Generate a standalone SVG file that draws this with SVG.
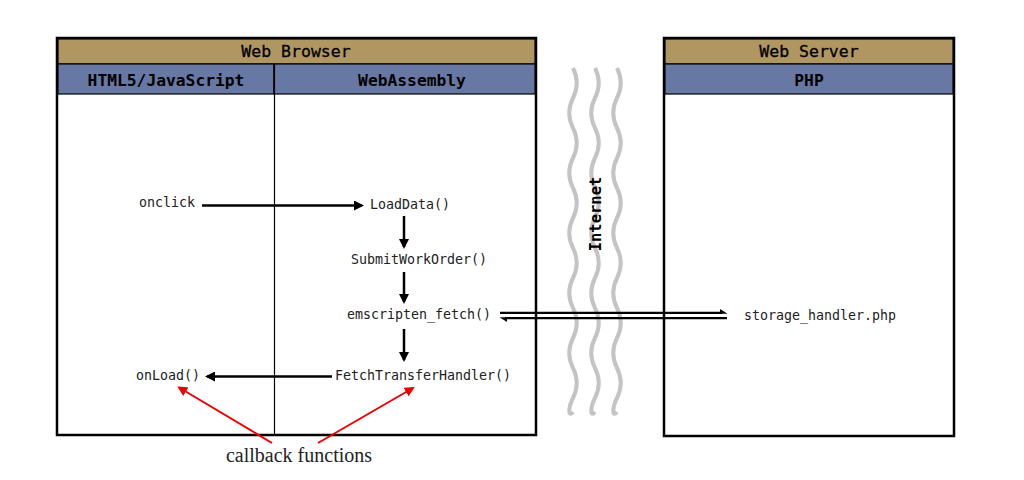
<svg xmlns="http://www.w3.org/2000/svg" width="1024" height="480" viewBox="0 0 1024 480">
<defs>
<style>
.box{fill:#fff;stroke:#000;stroke-width:2.5}
.title{fill:#b09660;stroke:#000;stroke-width:1.2}
.hdr{fill:#6878a4;stroke:#000;stroke-width:1.2}
.ht{font-family:"DejaVu Sans Mono",monospace;font-size:16.3px;font-weight:bold;text-anchor:middle;fill:#000}
.tt{font-family:"DejaVu Sans Mono",monospace;font-size:16.5px;text-anchor:middle;fill:#000;stroke:#000;stroke-width:0.3}
.fn{font-family:"DejaVu Sans Mono",monospace;font-size:13.3px;fill:#222}
.ar{stroke:#000;stroke-width:2.5;fill:none}
.red{stroke:#e00;stroke-width:2;fill:none}
.wave{stroke:#c4c4c4;stroke-width:4;fill:none}
</style>
<marker id="ah" viewBox="0 0 10 10" refX="8" refY="5" markerWidth="4" markerHeight="4" orient="auto-start-reverse" markerUnits="strokeWidth"><path d="M0,0 L10,5 L0,10 z" fill="#000"/></marker>
<marker id="rh" viewBox="0 0 10 10" refX="8" refY="5" markerWidth="5" markerHeight="5" orient="auto" markerUnits="strokeWidth"><path d="M0,0 L10,5 L0,10 z" fill="#e00"/></marker>
<filter id="bl"><feGaussianBlur stdDeviation="0.7"/></filter>
<path id="wv" d="M0,68 c5,10 5,20 0,30 c-5,10 -5,20 0,30 c5,10 5,20 0,30 c-5,10 -5,20 0,30 c5,10 5,20 0,30 c-5,10 -5,20 0,30 c5,10 5,20 0,30 c-5,10 -5,20 0,30 c5,10 5,20 0,30 c-5,10 -5,20 0,30 c5,10 5,20 0,30 c-5,10 -5,20 0,14"/>
</defs>

<g id="web-browser">
<rect class="box" x="57" y="38" width="479" height="397"/>
<rect class="title" x="58" y="39" width="477" height="25"/>
<rect class="hdr" x="58" y="64" width="216" height="30"/>
<rect class="hdr" x="274" y="64" width="261" height="30"/>
<line x1="274.5" y1="64" x2="274.5" y2="434" stroke="#000" stroke-width="1.2"/>
<text class="tt" x="296" y="57">Web Browser</text>
<text class="ht" x="166" y="86">HTML5/JavaScript</text>
<text class="ht" x="412" y="86">WebAssembly</text>
</g>

<g id="web-server">
<rect class="box" x="664" y="38" width="290" height="398"/>
<rect class="title" x="665" y="39" width="288" height="25"/>
<rect class="hdr" x="665" y="64" width="288" height="30"/>
<text class="tt" x="809" y="57">Web Server</text>
<text class="ht" x="809" y="86">PHP</text>
</g>

<g id="internet">
<g filter="url(#bl)">
<use href="#wv" class="wave" x="573"/>
<use href="#wv" class="wave" x="595"/>
<use href="#wv" class="wave" x="617"/>
</g>
<text class="ht" x="0" y="0" transform="translate(601,214) rotate(-90)" style="font-size:15.5px">Internet</text>
</g>

<g id="n-onclick"><text class="fn" x="139" y="207">onclick</text></g>
<g id="n-loaddata"><text class="fn" x="370" y="209">LoadData()</text></g>
<g id="n-submit"><text class="fn" x="351" y="264">SubmitWorkOrder()</text></g>
<g id="n-fetch"><text class="fn" x="347" y="319">emscripten_fetch()</text></g>
<g id="n-handler"><text class="fn" x="335" y="380">FetchTransferHandler()</text></g>
<g id="n-onload"><text class="fn" x="136" y="380">onLoad()</text></g>
<g id="n-storage"><text class="fn" x="744" y="320">storage_handler.php</text></g>

<g id="connectors">
<line class="ar" x1="202" y1="205.5" x2="362" y2="205.5" marker-end="url(#ah)"/>
<line class="ar" x1="404" y1="216" x2="404" y2="247" marker-end="url(#ah)"/>
<line class="ar" x1="404" y1="272" x2="404" y2="302" marker-end="url(#ah)"/>
<line class="ar" x1="404" y1="329" x2="404" y2="360" marker-end="url(#ah)"/>
<line class="ar" x1="332" y1="376.5" x2="207" y2="376.5" marker-end="url(#ah)"/>
<line x1="500" y1="312.8" x2="722" y2="312.8" stroke="#000" stroke-width="2.2"/>
<path d="M720,309 L727.5,313.8 L720,313.8 z" fill="#000"/>
<line x1="505" y1="318.2" x2="727" y2="318.2" stroke="#000" stroke-width="2.2"/>
<path d="M507,322 L499.5,317.2 L507,317.2 z" fill="#000"/>
<line class="red" x1="272" y1="443" x2="179" y2="387.5" marker-end="url(#rh)"/>
<line class="red" x1="318" y1="443" x2="413" y2="388" marker-end="url(#rh)"/>
</g>
<text x="299" y="462" style="font-family:'Liberation Serif',serif;font-size:20px;text-anchor:middle;fill:#222">callback functions</text>
</svg>
